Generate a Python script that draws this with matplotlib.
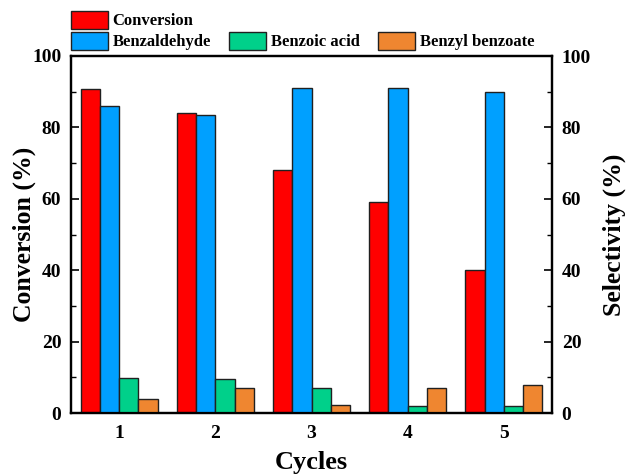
import matplotlib
matplotlib.use("Agg")
import matplotlib.pyplot as plt
import numpy as np
from matplotlib.patches import Patch

plt.rcParams['font.family'] = ['Liberation Serif', 'DejaVu Serif']
plt.rcParams['font.weight'] = 'bold'

cycles = [1, 2, 3, 4, 5]
conversion = [90.8, 84.1, 68.1, 59.2, 40.0]
benzaldehyde = [86.0, 83.6, 91.0, 91.0, 90.0]
benzoic_acid = [9.9, 9.4, 6.9, 1.9, 1.9]
benzyl_benzoate = [3.9, 6.9, 2.2, 6.9, 7.9]

c_red = '#FF0000'
c_blue = '#00A0FF'
c_green = '#00D08A'
c_orange = '#EF8630'

fig = plt.figure(figsize=(6.26, 4.74), dpi=100)
ax = fig.add_axes([71/626, 1-413/474, (552-71)/626, (413-56)/474])
ax2 = ax.twinx()

x = np.array(cycles, dtype=float)
w = 0.2
kw = dict(width=w, edgecolor='#202020', linewidth=1.0)
ax.bar(x - 1.5*w, conversion, color=c_red, **kw)
ax2.bar(x - 0.5*w, benzaldehyde, color=c_blue, **kw)
ax2.bar(x + 0.5*w, benzoic_acid, color=c_green, **kw)
ax2.bar(x + 1.5*w, benzyl_benzoate, color=c_orange, **kw)

for a in (ax, ax2):
    a.set_ylim(0, 100)
    a.set_xlim(0.5, 5.5)
    a.set_yticks([0, 20, 40, 60, 80, 100])
    a.set_yticks([10, 30, 50, 70, 90], minor=True)
    for s in a.spines.values():
        s.set_linewidth(1.6)
        s.set_color('black')

ax.set_xticks(cycles)
ax.set_xticklabels([str(c) for c in cycles])
ax.tick_params(axis='x', which='major', direction='in', length=0, labelsize=14, pad=9)
ax.tick_params(axis='y', which='major', direction='in', length=6, width=1.2, labelsize=14, pad=7)
ax.tick_params(axis='y', which='minor', direction='in', length=3.5, width=1.0)
ax2.tick_params(axis='y', which='major', direction='in', length=6, width=1.2, labelsize=14, pad=7)
ax2.tick_params(axis='y', which='minor', direction='in', length=3.5, width=1.0)
for lab in ax.get_xticklabels() + ax.get_yticklabels() + ax2.get_yticklabels():
    lab.set_fontweight('bold')

ax.set_xlabel('Cycles', fontsize=19, fontweight='bold', labelpad=6)
ax.set_ylabel('Conversion (%)', fontsize=18.5, fontweight='bold', labelpad=-3)
ax2.set_ylabel('Selectivity (%)', fontsize=18.5, fontweight='bold', labelpad=8)

lkw = dict(frameon=False, prop={'weight': 'bold', 'size': 12}, handlelength=2.2,
           handleheight=1.25, handletextpad=0.3, borderaxespad=0, borderpad=0)
h1 = [Patch(facecolor=c_red, edgecolor='#202020', linewidth=1.0)]
fig.legend(h1, ['Conversion'], loc='upper left', bbox_to_anchor=(71/626, 1-11/474), **lkw)
h2 = [Patch(facecolor=c_blue, edgecolor='#202020', linewidth=1.0),
      Patch(facecolor=c_green, edgecolor='#202020', linewidth=1.0),
      Patch(facecolor=c_orange, edgecolor='#202020', linewidth=1.0)]
fig.legend(h2, ['Benzaldehyde', 'Benzoic acid', 'Benzyl benzoate'], loc='upper left',
           bbox_to_anchor=(71/626, 1-32/474), ncol=3, columnspacing=1.1, **lkw)

fig.savefig('out.png', dpi=100)
